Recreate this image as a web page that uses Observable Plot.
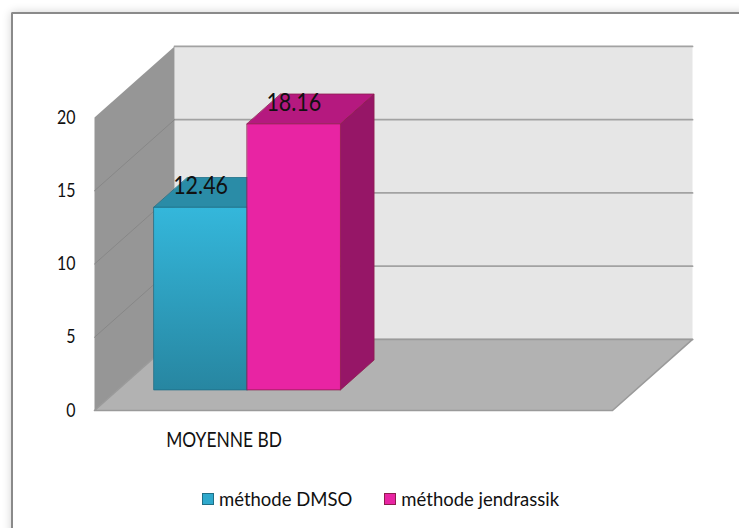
<!DOCTYPE html>
<html><head><meta charset="utf-8">
<script src="https://cdn.jsdelivr.net/npm/d3@7"></script>
<script src="https://cdn.jsdelivr.net/npm/@observablehq/plot@0.6"></script>
<style>
body{margin:0;background:#fff;width:739px;height:528px;overflow:hidden;position:relative;font-family:Lato,sans-serif;}
#frame{position:absolute;left:11px;top:12px;width:820px;height:620px;border-left:2px solid #8a8a8a;border-top:2px solid #8a8a8a;box-shadow:0 0 10px rgba(0,0,0,0.18);background:#fff;border-top-left-radius:2px;}
#chart{position:absolute;left:0;top:0;}
#legend{position:absolute;left:202px;top:487px;display:flex;align-items:center;font-size:18.5px;color:#111;line-height:24px;}
.sw{width:10px;height:10px;margin-right:5px;display:inline-block;}
.item{display:flex;align-items:center;}
</style></head>
<body>
<div id="frame"></div>
<div id="chart"></div>
<div id="legend"></div>
<script>
// ---- data ----
const categories = ["MOYENNE BD", ""];
const series = ["méthode DMSO", "méthode jendrassik"];
const values = [12.46, 18.16];
const valueLabels = ["12.46", "18.16"];
const yTicks = [0, 5, 10, 15, 20];
const frontColors = ["url(#gCyan)", "#e824a3"];
const topColors = ["#2a8ca7", "#b5197f"];
const sideColors = ["#22738a", "#961667"];
const edgeColors = ["#1f6f86", "#8e1d4e"];
const swatchColors = ["#2fa9cc", "#e824a3"];

// ---- 3D geometry (in scale units) ----
const DX = 0.309, DY = 4.85;      // depth offset of the back plane
const BAR_W = 0.36, D0 = 0.29, D1 = 0.71;
const P = (x, v, d) => ({x: x + d * DX, y: v + d * DY});
const xMax = categories.length, yMax = yTicks[yTicks.length - 1];

const face = (pts, fill, stroke = "none", sw = 1) =>
  Plot.line(pts, {x: "x", y: "y", fill, stroke, strokeWidth: sw, curve: "linear-closed"});
const seg = (a, b, stroke, sw) => Plot.line([a, b], {x: "x", y: "y", stroke, strokeWidth: sw});

const marks = [];
// back wall
marks.push(face([P(0, 0, 1), P(xMax, 0, 1), P(xMax, yMax, 1), P(0, yMax, 1)], "#e6e6e6"));
for (const t of yTicks) marks.push(seg(P(0, t, 1), P(xMax, t, 1), "#a2a2a2", 1.8));
// left wall
marks.push(face([P(0, 0, 0), P(0, 0, 1), P(0, yMax, 1), P(0, yMax, 0)], "#969696"));
for (const t of yTicks.slice(1, -1)) marks.push(seg(P(0, t, 0), P(0, t, 1), "#878787", 1));
// floor
marks.push(face([P(0, 0, 0), P(xMax, 0, 0), P(xMax, 0, 1), P(0, 0, 1)], "#b2b2b2", "#9a9a9a", 1.6));
// bars
const labelData = [];
values.forEach((v, j) => {
  const x0 = 0.5 - BAR_W * series.length / 2 + j * BAR_W, x1 = x0 + BAR_W;
  marks.push(face([P(x1, 0, D0), P(x1, 0, D1), P(x1, v, D1), P(x1, v, D0)], sideColors[j], edgeColors[j], 0.8));
  marks.push(face([P(x0, v, D0), P(x1, v, D0), P(x1, v, D1), P(x0, v, D1)], topColors[j], edgeColors[j], 0.8));
  marks.push(face([P(x0, 0, D0), P(x1, 0, D0), P(x1, v, D0), P(x0, v, D0)], frontColors[j], edgeColors[j], 0.8));
  labelData.push({...P((x0 + x1) / 2, v, D0), text: valueLabels[j]});
});
marks.push(Plot.text(labelData, {x: "x", y: "y", text: "text", fontSize: 25, lineAnchor: "bottom", dy: -13, fill: "#111"}));
// axes
marks.push(Plot.axisY(yTicks, {tickSize: 0, tickPadding: 19, fontSize: 19, label: null, tickFormat: d => String(d), fill: "#111"}));
marks.push(Plot.axisX(categories.map((c, i) => i + 0.5).filter((d, i) => categories[i]), {
  tickSize: 0, tickPadding: 21, fontSize: 22, label: null, tickFormat: d => categories[Math.floor(d)], fill: "#111"}));

const svg = Plot.plot({
  width: 739, height: 470,
  marginLeft: 94, marginRight: 127, marginTop: 117, marginBottom: 60,
  x: {domain: [0, xMax]},
  y: {domain: [0, yMax]},
  style: {fontFamily: "Lato, sans-serif", background: "transparent", overflow: "visible"},
  marks
});
const defs = d3.select(svg).insert("defs", ":first-child");
const g = defs.append("linearGradient").attr("id", "gCyan").attr("x1", 0).attr("y1", 0).attr("x2", 0).attr("y2", 1);
g.append("stop").attr("offset", "0%").attr("stop-color", "#34b7db");
g.append("stop").attr("offset", "100%").attr("stop-color", "#2786a1");

// condensed look (narrow, tall glyphs as in the reference)
function squeeze(selector, s) {
  svg.querySelectorAll(selector).forEach(t => {
    let tr = t.getAttribute("transform");
    if (!tr) {
      const x = +t.getAttribute("x") || 0, y = +t.getAttribute("y") || 0;
      t.removeAttribute("x"); t.removeAttribute("y");
      tr = `translate(${x},${y})`;
    }
    t.setAttribute("transform", tr + ` scale(${s},1)`);
  });
}
squeeze('[aria-label="text"] text', 0.86);
squeeze('[aria-label="y-axis tick label"] text', 0.84);
squeeze('[aria-label="x-axis tick label"] text', 0.79);
document.getElementById("chart").appendChild(svg);

// legend
const leg = document.getElementById("legend");
series.forEach((s, j) => {
  const it = document.createElement("div");
  it.className = "item";
  if (j > 0) it.style.marginLeft = "32px";
  const sw = document.createElement("span");
  sw.className = "sw";
  sw.style.background = swatchColors[j];
  sw.style.border = "1px solid " + edgeColors[j];
  it.appendChild(sw);
  const t = document.createElement("span");
  t.textContent = s;
  it.appendChild(t);
  leg.appendChild(it);
});
</script>
</body></html>
